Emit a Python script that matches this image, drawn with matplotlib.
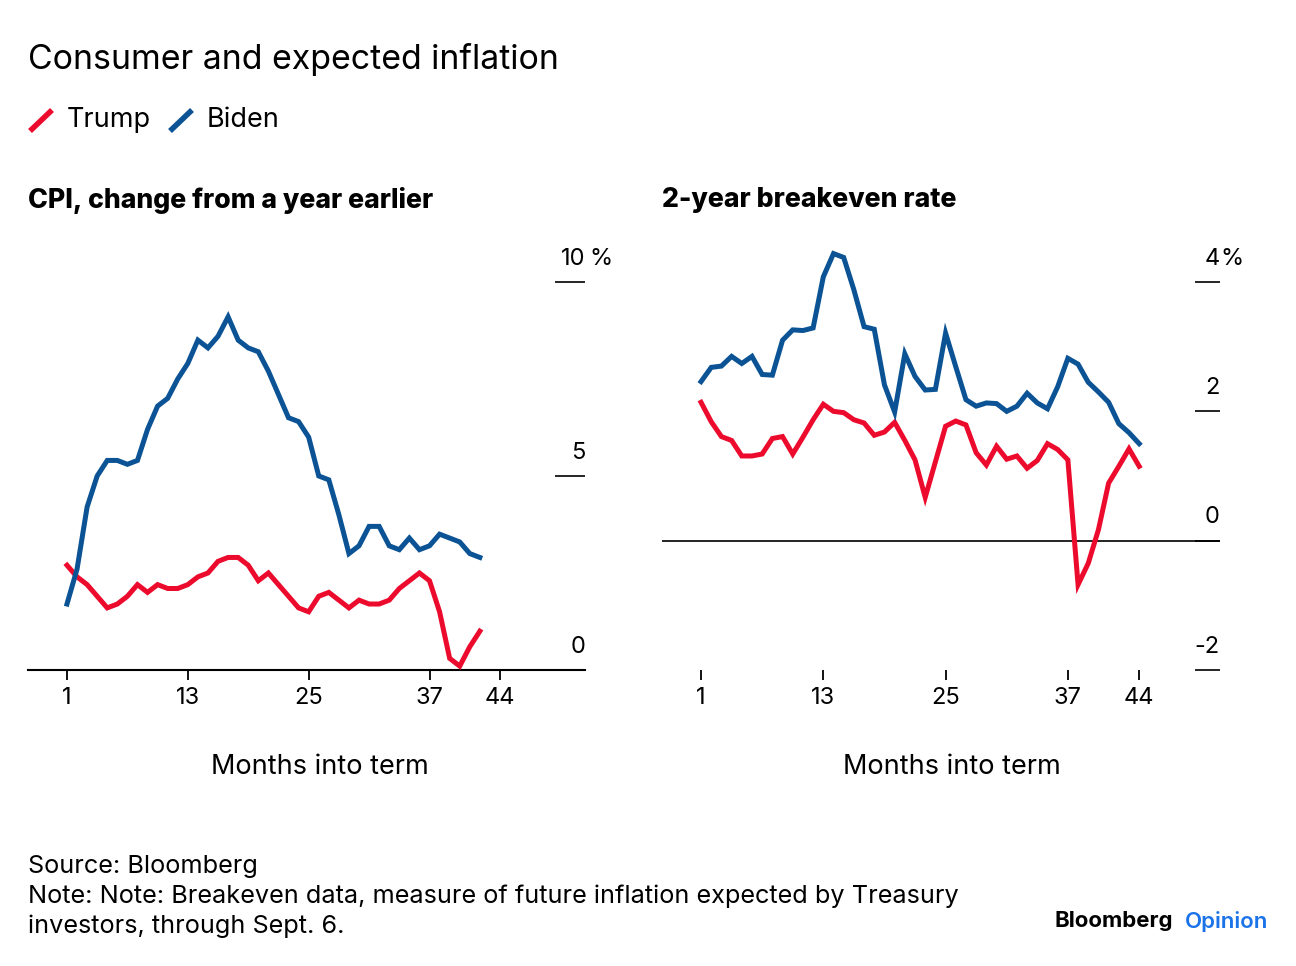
import numpy as np
import matplotlib
matplotlib.use("Agg")
import matplotlib.pyplot as plt
from matplotlib.lines import Line2D
import matplotlib.transforms as mtransforms

plt.rcParams['font.family'] = ['Inter', 'DejaVu Sans']

# CPI, change from a year earlier (months 1..42)
trump_cpi = [2.7, 2.4, 2.2, 1.9, 1.6, 1.7, 1.9, 2.2, 2.0, 2.2, 2.1, 2.1,
             2.2, 2.4, 2.5, 2.8, 2.9, 2.9, 2.7, 2.3, 2.5, 2.2, 1.9, 1.6,
             1.5, 1.9, 2.0, 1.8, 1.6, 1.8, 1.7, 1.7, 1.8, 2.1, 2.3, 2.5,
             2.3, 1.5, 0.3, 0.1, 0.6, 1.0]
biden_cpi = [1.7, 2.6, 4.2, 5.0, 5.4, 5.4, 5.3, 5.4, 6.2, 6.8, 7.0, 7.5,
             7.9, 8.5, 8.3, 8.6, 9.1, 8.5, 8.3, 8.2, 7.7, 7.1, 6.5, 6.4,
             6.0, 5.0, 4.9, 4.0, 3.0, 3.2, 3.7, 3.7, 3.2, 3.1, 3.4, 3.1,
             3.2, 3.5, 3.4, 3.3, 3.0, 2.9]

# 2-year breakeven rate (months 1..44)
trump_be = [2.14, 1.84, 1.61, 1.55, 1.31, 1.31, 1.34, 1.58, 1.61, 1.34, 1.60,
            1.87, 2.11, 2.00, 1.98, 1.87, 1.82, 1.63, 1.68, 1.83, 1.55, 1.25,
            0.67, 1.22, 1.77, 1.85, 1.79, 1.36, 1.17, 1.46, 1.26, 1.31, 1.12,
            1.24, 1.50, 1.41, 1.25, -0.68, -0.35, 0.17, 0.89, 1.15, 1.42, 1.15]
biden_be = [2.46, 2.68, 2.70, 2.85, 2.74, 2.85, 2.57, 2.56, 3.10, 3.26, 3.25,
            3.29, 4.08, 4.44, 4.38, 3.88, 3.31, 3.27, 2.41, 1.99, 2.89, 2.54,
            2.33, 2.34, 3.21, 2.69, 2.18, 2.08, 2.13, 2.12, 2.00, 2.08, 2.28,
            2.13, 2.04, 2.38, 2.82, 2.73, 2.45, 2.30, 2.14, 1.81, 1.67, 1.50]

xticks = [1, 13, 25, 37, 44]
cpi_ticks = [0, 5, 10]
be_ticks = [-2, 0, 2, 4]

RED = '#ec0b2d'
BLUE = '#0b5394'

W, H = 1296, 966
fig = plt.figure(figsize=(W / 100, H / 100), dpi=100)


def px_ax(x0, x1, y0, y1):
    return fig.add_axes([x0 / W, 1 - y1 / H, (x1 - x0) / W, (y1 - y0) / H])


ax1 = px_ax(28, 585, 240, 670)
ax2 = px_ax(662, 1220, 240, 670)

m_cpi = np.arange(1, len(trump_cpi) + 1)
m_be = np.arange(1, len(trump_be) + 1)

ax1.plot(m_cpi, trump_cpi, color=RED, lw=3.6, solid_joinstyle='miter', zorder=3)
ax1.plot(m_cpi, biden_cpi, color=BLUE, lw=3.6, solid_joinstyle='miter', zorder=3)
ax2.plot(m_be, trump_be, color=RED, lw=3.6, solid_joinstyle='miter', zorder=3)
ax2.plot(m_be, biden_be, color=BLUE, lw=3.6, solid_joinstyle='miter', zorder=3)

ax1.set_xlim(-2.87, 52.44)
ax1.set_ylim(0, 11.08)
ax2.set_xlim(-2.83, 51.93)
ax2.set_ylim(-2, 4.65)
ax2.axhline(0, color='black', lw=1.2, zorder=2)

for ax, ticks, tlen, pct_dx in [(ax1, cpi_ticks, 21.6, 3.5), (ax2, be_ticks, 18, 0.5)]:
    for s in ['top', 'left', 'right']:
        ax.spines[s].set_visible(False)
    ax.patch.set_alpha(0)
    ax.set_xticks(xticks)
    ax.set_xticklabels([str(t) for t in xticks], fontsize=17)
    ax.tick_params(axis='x', direction='out', length=7.5, width=1.3, pad=5)
    ax.yaxis.tick_right()
    ax.set_yticks(ticks)
    ax.tick_params(axis='y', direction='in', length=tlen, width=1.2,
                   labelright=False, labelleft=False)
    trans = mtransforms.blended_transform_factory(ax.transAxes, ax.transData)
    for i, t in enumerate(ticks):
        ax.annotate(str(t), xy=(1, t), xycoords=trans, xytext=(0, 12.5),
                    textcoords='offset points', ha='right', va='baseline',
                    fontsize=17)
        if i == len(ticks) - 1:
            ax.annotate('%', xy=(1, t), xycoords=trans, xytext=(pct_dx, 12.5),
                        textcoords='offset points', ha='left', va='baseline',
                        fontsize=17)

ax1.spines['bottom'].set_linewidth(1.5)
ax2.spines['bottom'].set_visible(False)

# axis titles
for xc in [319.5, 952]:
    fig.text(xc / W, 1 - 767 / H, 'Months into term', fontsize=19.5,
             ha='center', va='center')

# titles and legend
fig.text(28 / W, 1 - 60 / H, 'Consumer and expected inflation', fontsize=24.4,
         va='center', ha='left')
fig.text(28 / W, 1 - 200 / H, 'CPI, change from a year earlier', fontsize=19.2,
         fontweight='heavy', va='center', ha='left')
fig.text(662 / W, 1 - 200 / H, '2-year breakeven rate', fontsize=19.2,
         fontweight='heavy', va='center', ha='left')

for x0, col, lab in [(30, RED, 'Trump'), (170, BLUE, 'Biden')]:
    fig.add_artist(Line2D([x0 / W, (x0 + 22) / W], [1 - 131 / H, 1 - 110 / H],
                          color=col, lw=4, solid_capstyle='butt'))
    fig.text((x0 + 37) / W, 1 - 120 / H, lab, fontsize=19.5, va='center',
             ha='left')

# footer
fig.text(28 / W, 1 - 866 / H, 'Source: Bloomberg', fontsize=18.2, va='center')
fig.text(28 / W, 1 - 896 / H,
         'Note: Note: Breakeven data, measure of future inflation expected by Treasury',
         fontsize=18.2, va='center')
fig.text(28 / W, 1 - 926 / H, 'investors, through Sept. 6.', fontsize=18.2,
         va='center')
fig.text(1173 / W, 1 - 921 / H, 'Bloomberg', fontsize=16, fontweight='bold',
         va='center', ha='right')
fig.text(1268 / W, 1 - 921 / H, 'Opinion', fontsize=16, fontweight='semibold',
         color='#1a73e8', va='center', ha='right')

fig.savefig('out.png', dpi=100)
